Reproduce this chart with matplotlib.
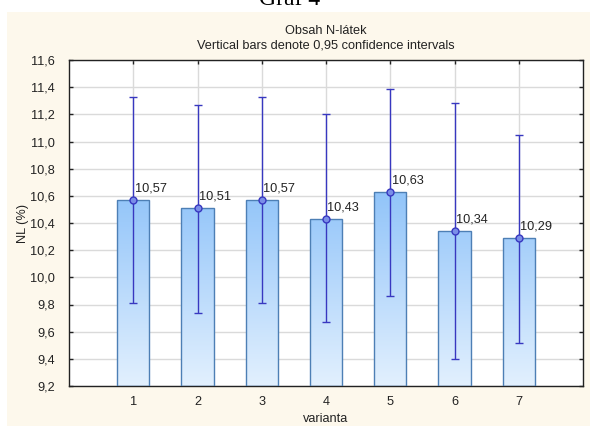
import numpy as np
import matplotlib
matplotlib.use("Agg")
import matplotlib.pyplot as plt
from matplotlib.patches import Rectangle
from matplotlib.colors import LinearSegmentedColormap

plt.rcParams['font.family'] = ['Liberation Sans', 'DejaVu Sans']

# Mean N content per variant with 95 % confidence limits
varianta = [1, 2, 3, 4, 5, 6, 7]
means = [10.57, 10.51, 10.57, 10.43, 10.63, 10.34, 10.29]
ci_low = [9.81, 9.74, 9.81, 9.67, 9.86, 9.40, 9.52]
ci_high = [11.33, 11.27, 11.33, 11.20, 11.39, 11.28, 11.05]
yticks = [9.2, 9.4, 9.6, 9.8, 10.0, 10.2, 10.4, 10.6, 10.8, 11.0, 11.2, 11.4, 11.6]

FS = 9.2
TXT = '#222222'

fig = plt.figure(figsize=(5.9, 4.26), dpi=100)
fig.patch.set_facecolor('white')

# cream panel behind the chart
fig.patches.append(Rectangle((7 / 590, 0), 1, 1 - 12 / 426, transform=fig.transFigure,
                             facecolor='#fdf8ec', edgecolor='none', zorder=-10))
fig.text(290 / 590, 1 - 5 / 426, 'Graf 4', ha='center', va='baseline',
         fontsize=17, family=['Liberation Serif', 'DejaVu Serif'], color='black')

ax = fig.add_axes([69 / 590, 1 - 386 / 426, (583 - 69) / 590, (386 - 60) / 426])
ax.set_facecolor('white')
ax.set_xlim(0, 8)
ax.set_ylim(9.2, 11.6)

ax.grid(True, color='#dadada', linewidth=1.0, zorder=0)
ax.set_axisbelow(True)

bars = ax.bar(varianta, [m - 9.2 for m in means], bottom=9.2, width=0.5,
              facecolor='none', edgecolor='#4d7fb5', linewidth=1.0, zorder=3)

cmap = LinearSegmentedColormap.from_list('barfill', ['#e2f0fe', '#5aa6f6'])
grad = np.linspace(0, 1, 256).reshape(-1, 1)
for b in bars:
    x0, y0 = b.get_x(), b.get_y()
    w, h = b.get_width(), b.get_height()
    im = ax.imshow(grad, extent=[x0, x0 + w, 9.2, 11.6], origin='lower',
                   cmap=cmap, aspect='auto', zorder=2, interpolation='bicubic')
    im.set_clip_path(Rectangle((x0, y0), w, h, transform=ax.transData))

yerr = [np.array(means) - np.array(ci_low), np.array(ci_high) - np.array(means)]
ax.errorbar(varianta, means, yerr=yerr, fmt='o', color='#3838c0', ecolor='#3838c0',
            elinewidth=1.0, capsize=3, capthick=1.2, markersize=5,
            markerfacecolor='#7a8ee8', markeredgewidth=1.0, zorder=5)

for x, m in zip(varianta, means):
    ax.annotate(f'{m:.2f}'.replace('.', ','), (x, m), xytext=(1, 4),
                textcoords='offset points', fontsize=FS, color=TXT,
                ha='left', va='bottom', zorder=6)

ax.set_xticks(varianta)
ax.set_xticklabels([str(v) for v in varianta])
ax.set_yticks(yticks)
ax.set_yticklabels([f'{t:.1f}'.replace('.', ',') for t in yticks])
ax.tick_params(direction='in', length=3, width=1, labelsize=FS, colors=TXT,
               top=True, right=True)
ax.tick_params(axis='x', pad=7)
ax.tick_params(axis='y', pad=10)

for s in ax.spines.values():
    s.set_color('#222222')
    s.set_linewidth(1.0)

ax.set_xlabel('varianta', fontsize=FS, color=TXT, labelpad=4)
ax.set_ylabel('NL (%)', fontsize=FS, color=TXT, labelpad=1)

fig.text(326 / 590, 1 - 31 / 426, 'Obsah N-látek', ha='center', va='center',
         fontsize=FS, color=TXT)
fig.text(326 / 590, 1 - 45 / 426, 'Vertical bars denote 0,95 confidence intervals',
         ha='center', va='center', fontsize=FS, color=TXT)

fig.savefig('out.png', dpi=100, facecolor=fig.get_facecolor())
